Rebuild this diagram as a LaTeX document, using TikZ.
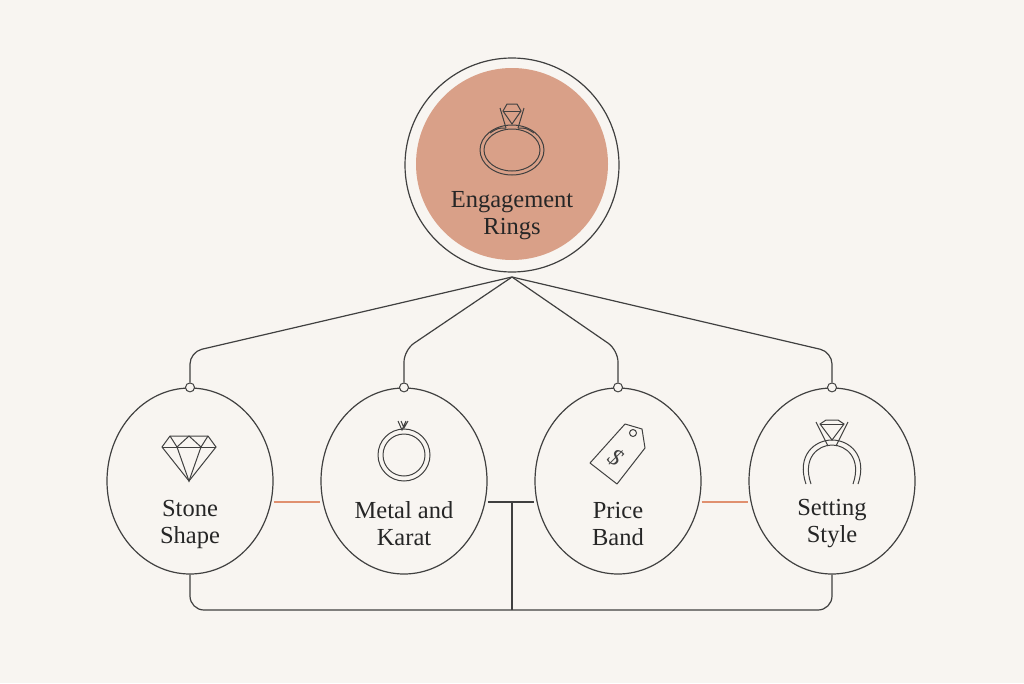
\documentclass[tikz,border=0pt]{standalone}
\usepackage{fontspec}
\setmainfont{Liberation Serif}
\begin{document}
\begin{tikzpicture}[x=1pt,y=-1pt,
  line/.style={draw=black!75,line width=1.2pt},
  oval/.style={line, ellipse, minimum width=166pt, minimum height=186pt, inner sep=0pt},
  lbl/.style={align=center,font=\fontsize{24.5}{27}\selectfont,text=black!85},
  icon/.style={draw=black!75,line width=1pt},
  dot/.style={circle,draw=black!75,line width=1pt,fill=bg,minimum size=9pt,inner sep=0pt},
  accent/.style={draw=acc,line width=2.4pt}]
\definecolor{bg}{HTML}{F8F5F1}
\definecolor{top}{HTML}{D9A088}
\definecolor{acc}{HTML}{E0906F}
\usetikzlibrary{shapes.geometric}
\fill[bg] (0,0) rectangle (1024,683);
\useasboundingbox (0,0) rectangle (1024,683);
% top
\node[circle,fill=top,minimum size=192pt,inner sep=0pt] (tf) at (512,164) {};
\node[circle,line,minimum size=214pt,inner sep=0pt] (t) at (512,165) {};
\node[lbl] at (512,216) {Engagement\\Rings};
% ring icon top
\draw[icon] (512,150) ellipse (32pt and 25pt);
\draw[icon] (512,150) ellipse (28pt and 21pt);
\draw[icon] (503,111) -- (507,104) -- (517,104) -- (521,111) -- (512,124) -- cycle;
\draw[icon] (503,111) -- (521,111);
\draw[icon] (500,108)--(506,128) (524,108)--(518,128);
\draw[icon] (490,133) .. controls (498,128) .. (506,128) (534,133) .. controls (526,128) .. (518,128);
% ovals
\node[oval] (s) at (190,481) {};
\node[oval] (m) at (404,481) {};
\node[oval] (p) at (618,481) {};
\node[oval] (g) at (832,481) {};
\node[lbl] at (190,524) {Stone\\Shape};
\node[lbl] at (404,524) {Metal and\\Karat};
\node[lbl] at (618,524) {Price\\Band};
\node[lbl] at (832,524) {Setting\\Style};
% dots
\node[dot] (ds) at (s.north) {};
\node[dot] (dm) at (m.north) {};
\node[dot] (dp) at (p.north) {};
\node[dot] (dg) at (g.north) {};
\coordinate (tb) at (512,277);
\draw[line,rounded corners=12pt] (tb) -- (190,352) -- (ds.north);
\draw[line,rounded corners=12pt] (tb) -- (404,350) -- (dm.north);
\draw[line,rounded corners=12pt] (tb) -- (618,350) -- (dp.north);
\draw[line,rounded corners=12pt] (tb) -- (832,352) -- (dg.north);
% side links
\draw[accent] (s.east |- 0,502) -- (m.west |- 0,502);
\draw[accent] (p.east |- 0,502) -- (g.west |- 0,502);
\coordinate (mr) at (487,502);
\coordinate (pl) at (535,502);
\draw[line] (m.east |- mr) -- (p.west |- pl);
\draw[line] (512,502) -- (512,610);
\draw[line,rounded corners=14pt] (s.south) -- (190,610) -- (832,610) -- (g.south);
% diamond icon
\draw[icon] (162,447) -- (170,436) -- (208,436) -- (216,447) -- (189,481) -- cycle;
\draw[icon] (162,447) -- (216,447);
\draw[icon] (170,436) -- (177,447) -- (189,436) -- (201,447) -- (208,436);
\draw[icon] (177,447) -- (189,481) -- (201,447);
% metal ring icon
\draw[icon] (404,455) circle (26pt);
\draw[icon] (404,455) circle (21pt);
\draw[icon] (398,421)--(402,430)--(406,421) (401,421)--(404,428)--(408,421);
% price tag
\draw[icon,line join=round] (590,463) -- (617,484) -- (645,448) -- (642,429) -- (625,424) -- cycle;
\draw[icon] (633,433) circle (3.5pt);
\node[font=\fontsize{24}{24}\selectfont\itshape,text=black!75,rotate=-35] at (616,458) {\$};
% setting ring
\draw[icon] (806,484) .. controls (796,455) and (815,440) .. (832,440) .. controls (849,440) and (868,455) .. (858,484);
\draw[icon] (811,484) .. controls (802,458) and (818,445) .. (832,445) .. controls (846,445) and (862,458) .. (853,484);
\draw[icon] (820,424) -- (826,420) -- (838,420) -- (844,424) -- (832,440) -- cycle;
\draw[icon] (820,424) -- (844,424);
\draw[icon] (816,422)--(828,446) (848,422)--(836,446);
\end{tikzpicture}
\end{document}
